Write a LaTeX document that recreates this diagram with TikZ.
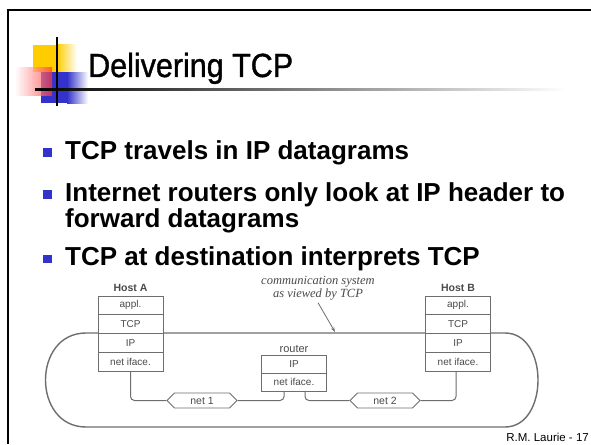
\documentclass[tikz,border=0pt]{standalone}
\usepackage{fontspec}
\setmainfont{Liberation Sans}
\newfontfamily\serifit{Liberation Serif}
\newfontfamily\titlefont[FakeBold=1.2]{Liberation Sans}
\usetikzlibrary{shapes.symbols,arrows.meta}
\definecolor{bulletblue}{HTML}{3333CC}
\definecolor{tyellow}{HTML}{FFCC00}
\definecolor{tblue}{HTML}{3333CC}
\definecolor{tred}{HTML}{FF3333}
\definecolor{dline}{HTML}{6E6E6E}
\definecolor{dtext}{HTML}{4A4A4A}
\tikzset{
  cell/.style={draw=dline, line width=0.9pt, fill=white, minimum width=65pt,
    minimum height=18.75pt, inner sep=0pt, text=dtext,
    font=\fontsize{10}{10}\selectfont},
  rcell/.style={cell, minimum height=18pt},
  hostlabel/.style={inner sep=0pt, text=dtext, font=\bfseries\fontsize{10.5}{10.5}\selectfont},
  plainlabel/.style={inner sep=0pt, text=dtext, font=\fontsize{11}{11}\selectfont},
  conn/.style={draw=dline, line width=1pt, rounded corners=4pt},
  ovalline/.style={draw=dline, line width=1.4pt},
  netblob/.style={signal, signal to=west and east, draw=dline, line width=0.9pt,
    fill=white, minimum width=70pt, minimum height=15pt, inner sep=0pt,
    text=dtext, font=\fontsize{10.5}{10.5}\selectfont},
  commtext/.style={align=center, text=dtext, inner sep=2pt,
    font=\serifit\itshape\fontsize{12.5}{13}\selectfont},
  btext/.style={anchor=base west, inner sep=0pt, font=\bfseries\fontsize{26}{30}\selectfont},
  bsq/.style={fill=bulletblue},
}
\begin{document}
\begin{tikzpicture}[x=1pt,y=-1pt]
\useasboundingbox (0,0) rectangle (591,444);
\fill[white] (0,0) rectangle (591,444);
% frame
\draw[line width=2.5pt] (8,444) -- (8,10) -- (591,10);
% title decoration
\fill[tyellow] (33,45) rectangle (57,72);
\shade[left color=tyellow, right color=white] (57,45) rectangle (77,72);
\fill[tblue] (41,72) rectangle (67,103);
\shade[left color=tblue, right color=white] (67,72) rectangle (88,103);
\shade[left color=white, right color=tred, opacity=0.7] (15,67) rectangle (52,95);
\shade[left color=black, right color=white] (35,88) rectangle (567,90);
\draw[line width=1.3pt] (57,37) -- (57,106);
\node[anchor=base west, inner sep=0pt] (title) at (88,77)
  {\scalebox{0.91}[1]{\titlefont\fontsize{33.5}{33.5}\selectfont Delivering TCP}};
% bullets
\fill[bsq] (43,148) rectangle (51.5,156.5);
\node[btext] (b1) at (65,159) {TCP travels in IP datagrams};
\fill[bsq] (43,190) rectangle (51.5,198.5);
\node[btext] (b2) at (65,201) {Internet routers only look at IP header to};
\node[btext] (b3) at (65,227) {forward datagrams};
\fill[bsq] (43,254.5) rectangle (51.5,263);
\node[btext] (b4) at (65,265) {TCP at destination interprets TCP};
% communication system oval
\draw[ovalline] (86,333) -- (505,333) .. controls (549,333) and (549,427) .. (505,427)
  -- (86,427) .. controls (32,427) and (32,333) .. (86,333) -- cycle;
% Host A
\node[hostlabel] (HA) at (130.5,288) {Host A};
\node[cell] (A1) at (130.5,305.4) {appl.};
\node[cell] (A2) at (130.5,324.1) {TCP};
\node[cell] (A3) at (130.5,342.9) {IP};
\node[cell] (A4) at (130.5,361.6) {net iface.};
% Host B
\node[hostlabel] (HB) at (458,288) {Host B};
\node[cell] (B1) at (458,305.4) {appl.};
\node[cell] (B2) at (458,324.1) {TCP};
\node[cell] (B3) at (458,342.9) {IP};
\node[cell] (B4) at (458,361.6) {net iface.};
% router
\node[plainlabel] (RL) at (294,349) {router};
\node[rcell] (R1) at (294,364) {IP};
\node[rcell] (R2) at (294,382) {net iface.};
% networks
\node[netblob] (N1) at (202,400.5) {net 1};
\node[netblob] (N2) at (385,400.5) {net 2};
\draw[conn] (A4.south) |- (N1.west);
\draw[conn] (N1.east) -| ([xshift=-10pt]R2.south);
\draw[conn] ([xshift=11pt]R2.south) |- (N2.west);
\draw[conn] (N2.east) -| ([xshift=-2pt]B4.south);
% annotation
\node[commtext] (CS) at (318,288.5) {communication system\\as viewed by TCP};
\coordinate (OV) at (335,332);
\draw[draw=dline, line width=0.8pt, -{Stealth[length=5pt,width=3.5pt]}] (CS.south) -- (OV);
% footer
\node[anchor=base east, inner sep=0pt, font=\fontsize{11.5}{11.5}\selectfont] (foot) at (589,441) {R.M. Laurie - 17};
\end{tikzpicture}
\end{document}
